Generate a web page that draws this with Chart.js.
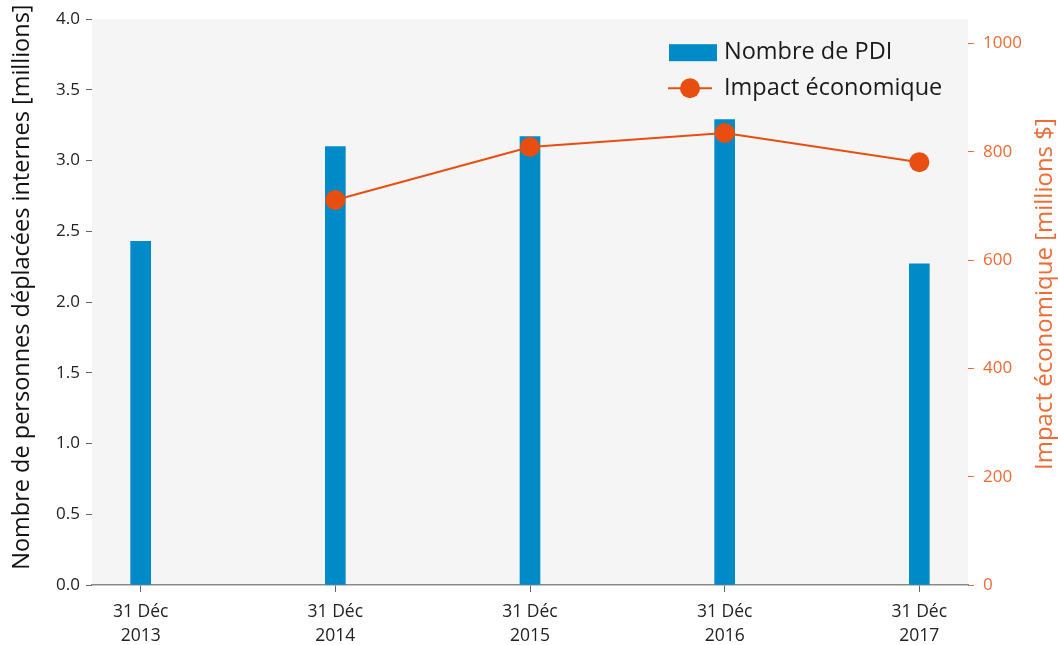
<!DOCTYPE html>
<html>
<head>
<meta charset="utf-8">
<script src="https://cdn.jsdelivr.net/npm/chart.js@4.4.1/dist/chart.umd.min.js"></script>
<style>
  html, body { margin: 0; padding: 0; background: #fff; }
  #wrap { width: 1058px; height: 645px; position: relative; }
</style>
</head>
<body>
<div id="wrap"><canvas id="chart" width="1058" height="645"></canvas></div>
<script>
// values
const years = [2013, 2014, 2015, 2016, 2017];
const tickLabels = [['31 Déc', '2013'], ['31 Déc', '2014'], ['31 Déc', '2015'], ['31 Déc', '2016'], ['31 Déc', '2017']];
const idpMillions = [2.43, 3.10, 3.17, 3.29, 2.27];
const impactMillions = [null, 711, 809, 835, 781];
const impactTicks = [0, 200, 400, 600, 800, 1000];

const BLUE = '#008bc8';
const ORANGE = '#e84e0f';
const ORANGE_TXT = '#f06a34';
const FONT = "'Open Sans', 'DejaVu Sans', sans-serif";

const plotBg = {
    id: 'plotBg',
    beforeDraw(chart) {
        const { ctx, chartArea: a } = chart;
        ctx.save();
        ctx.fillStyle = '#f5f5f5';
        ctx.fillRect(a.left, a.top, a.right - a.left, a.bottom - a.top);
        ctx.restore();
    }
};

// axis titles, both reading bottom to top
const axisTitles = {
    id: 'axisTitles',
    afterDraw(chart) {
        const { ctx, chartArea: a } = chart;
        const midY = (a.top + a.bottom) / 2;
        const draw = (text, x, y, color, size) => {
            ctx.save();
            ctx.translate(x, y);
            ctx.rotate(-Math.PI / 2);
            ctx.font = size + 'px ' + FONT;
            ctx.fillStyle = color;
            ctx.textAlign = 'center';
            ctx.textBaseline = 'middle';
            ctx.fillText(text, 0, 0);
            ctx.restore();
        };
        draw('Nombre de personnes déplacées internes [millions]', 22, midY - 15, '#111', 23.5);
        draw('Impact économique [millions $]', 1045, midY - 8, ORANGE_TXT, 24);
    }
};

// legend drawn inside the plot, top right, stacked
const innerLegend = {
    id: 'innerLegend',
    afterDraw(chart) {
        const { ctx, chartArea: a } = chart;
        const x = a.left + 577, y = a.top + 33;
        ctx.save();
        ctx.font = '23.5px ' + FONT;
        ctx.textBaseline = 'middle';
        ctx.fillStyle = BLUE;
        ctx.fillRect(x, y - 8, 48, 17);
        ctx.fillStyle = '#1a1a1a';
        ctx.fillText('Nombre de PDI', x + 55, y);

        const y2 = y + 36;
        ctx.strokeStyle = ORANGE;
        ctx.lineWidth = 2;
        ctx.beginPath();
        ctx.moveTo(x - 1, y2);
        ctx.lineTo(x + 43, y2);
        ctx.stroke();
        ctx.fillStyle = ORANGE;
        ctx.beginPath();
        ctx.arc(x + 21, y2, 10, 0, Math.PI * 2);
        ctx.fill();
        ctx.fillStyle = '#1a1a1a';
        ctx.fillText('Impact économique', x + 55, y2);
        ctx.restore();
    }
};

new Chart(document.getElementById('chart').getContext('2d'), {
    type: 'bar',
    data: {
        datasets: [
            {
                label: 'Impact économique',
                type: 'line',
                data: years.map((y, i) => ({ x: y, y: impactMillions[i] })),
                yAxisID: 'y1',
                borderColor: ORANGE,
                backgroundColor: ORANGE,
                borderWidth: 2,
                pointRadius: 10,
                pointHoverRadius: 10,
                pointBorderWidth: 0,
                spanGaps: false,
                tension: 0,
                order: 0
            },
            {
                label: 'Nombre de PDI',
                data: years.map((y, i) => ({ x: y, y: idpMillions[i] })),
                yAxisID: 'y',
                backgroundColor: BLUE,
                barThickness: 20,
                order: 1
            }
        ]
    },
    options: {
        responsive: false,
        animation: false,
        layout: { padding: { top: 18, left: 0, right: 0, bottom: 0 } },
        plugins: { legend: { display: false }, tooltip: { enabled: false } },
        scales: {
            x: {
                type: 'linear',
                min: 2012.75,
                max: 2017.25,
                offset: false,
                afterBuildTicks: s => { s.ticks = years.map(v => ({ value: v })); },
                afterFit: s => { s.height = 60; },
                grid: { drawOnChartArea: false, offset: false, tickLength: 7, color: '#666' },
                border: { display: true, color: '#888', width: 1.5 },
                ticks: {
                    color: '#222',
                    font: { family: FONT, size: 17.5, lineHeight: 1.38 },
                    padding: 8,
                    maxRotation: 0,
                    autoSkip: false,
                    callback: v => tickLabels[years.indexOf(v)] || ''
                }
            },
            y: {
                position: 'left',
                min: 0,
                max: 4,
                afterFit: s => { s.width = 92; },
                grid: { drawOnChartArea: false, tickLength: 6, color: '#666' },
                border: { display: false },
                ticks: {
                    stepSize: 0.5,
                    color: '#222',
                    font: { family: FONT, size: 17 },
                    padding: 6,
                    callback: v => v.toFixed(1)
                }
            },
            y1: {
                position: 'right',
                min: 0,
                max: 1045,
                afterBuildTicks: s => { s.ticks = impactTicks.map(v => ({ value: v })); },
                afterFit: s => { s.width = 90; },
                grid: { drawOnChartArea: false, tickLength: 6, color: ORANGE_TXT },
                border: { display: false },
                ticks: {
                    color: ORANGE_TXT,
                    font: { family: FONT, size: 17 },
                    padding: 9,
                    callback: v => String(v)
                }
            }
        }
    },
    plugins: [plotBg, axisTitles, innerLegend]
});
</script>
</body>
</html>
